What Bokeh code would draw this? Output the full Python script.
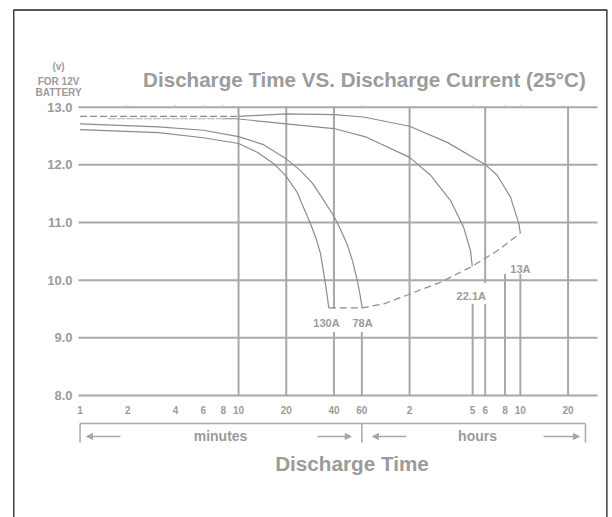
from bokeh.plotting import figure
from bokeh.models import Arrow, NormalHead
from bokeh.embed import file_html
from bokeh.resources import INLINE
from bokeh.core.properties import value

# ---------------- data (time in minutes, voltage in V) ----------------
t_130 = [1, 3.13, 6, 10, 13.12, 16.7, 20, 23.46, 25.8, 28.47, 31.06, 32.9, 35.04, 36.3, 37.1]
v_130 = [12.61, 12.56, 12.47, 12.37, 12.22, 12.02, 11.80, 11.52, 11.25, 10.98, 10.70, 10.46, 10.0, 9.72, 9.52]

t_78 = [1, 3.13, 6, 10, 14.38, 20.08, 24.61, 29.31, 32.91, 40.17, 44.0, 48.5, 52.4, 56.1, 58.4, 60.3]
v_78 = [12.71, 12.66, 12.60, 12.49, 12.35, 12.10, 11.90, 11.68, 11.47, 11.10, 10.88, 10.62, 10.33, 10.0, 9.75, 9.52]

t_22_dash = [1.5, 8]
v_22_dash = [12.80, 12.80]
t_22 = [8, 9.7, 20, 40, 64.2, 120, 162.7, 217.6, 262.8, 290.9, 298.2]
v_22 = [12.80, 12.80, 12.71, 12.63, 12.48, 12.13, 11.82, 11.38, 10.92, 10.51, 10.24]

t_13_dash = [1, 10]
v_13_dash = [12.84, 12.84]
t_13 = [10, 20, 40, 61.4, 120, 207.4, 361.6, 428.6, 520, 586.8, 600]
v_13 = [12.84, 12.885, 12.87, 12.83, 12.67, 12.39, 12.0, 11.82, 11.44, 10.98, 10.815]

t_end = [37.1, 60.3, 82.6, 120.5, 188, 298.2, 429, 600]
v_end = [9.52, 9.52, 9.59, 9.76, 9.965, 10.24, 10.51, 10.815]

curve_labels = ["130A", "78A", "22.1A", "13A"]
label_t = [35.9, 60.6, 294, 600]
label_v = [9.25, 9.25, 9.72, 10.20]

# vertical grid segments (minutes) with their top / bottom voltages
vline_t = [10, 20, 40, 40, 60, 120, 300, 360, 360, 480, 600, 1200]
vline_top = [13, 13, 13, 9.10, 9.10, 13, 9.59, 13, 9.59, 10.11, 10.11, 13]
vline_bot = [8, 8, 9.51, 8, 8, 8, 8, 9.95, 8, 8, 8, 8]

y_ticks = [8, 9, 10, 11, 12, 13]
y_tick_labels = ["8.0", "9.0", "10.0", "11.0", "12.0", "13.0"]
x_ticks = [1, 2, 4, 6, 8, 10, 20, 40, 60, 120, 300, 360, 480, 600, 1200]
x_tick_labels = ["1", "2", "4", "6", "8", "10", "20", "40", "60", "2", "5", "6", "8", "10", "20"]
top_ticks = [2, 4, 6, 8, 60, 300, 480, 600]

# axis domain of the chart grid
T_LO, T_HI = 0.978, 1840
V_LO, V_HI = 8, 13

# ---------------- layout (whole sheet drawn inside the plot frame) ----------------
X_VIEW = (0.3149, 2288)
Y_VIEW = (5.884, 14.8505)

TXT = "#9b9b9b"
GRID = "#a8a8a8"
CURVE = "#8c8c8c"
FONT = value("Liberation Sans")

p = figure(width=612, height=517, x_axis_type="log",
           x_range=X_VIEW, y_range=Y_VIEW,
           x_axis_location=None, y_axis_location=None,
           output_backend="svg", toolbar_location=None, min_border=0)
p.outline_line_color = None
p.grid.visible = False
p.background_fill_color = "white"
p.border_fill_color = "white"


def txt(x, y, t, size, align="center", **kw):
    p.text(x=x, y=y, text=t, text_align=align, text_baseline="middle",
           text_font=FONT, text_font_style="bold", text_font_size=value(size),
           text_color=TXT, **kw)


# grid
p.segment(x0=[T_LO] * len(y_ticks), y0=y_ticks, x1=[T_HI] * len(y_ticks), y1=y_ticks,
          line_color=GRID, line_width=2)
p.segment(x0=vline_t, y0=vline_bot, x1=vline_t, y1=vline_top,
          line_color=GRID, line_width=2)
p.segment(x0=top_ticks, y0=[V_HI] * len(top_ticks), x1=top_ticks,
          y1=[V_HI + 0.04] * len(top_ticks), line_color="#c8c8c8", line_width=1)

# tick labels
txt([T_LO] * len(y_ticks), y_ticks, y_tick_labels, "13px", align="right", x_offset=-6)
txt(x_ticks, [V_LO] * len(x_ticks), x_tick_labels, "10px", y_offset=15)

# curves
p.line(t_13_dash, v_13_dash, line_color=CURVE, line_width=1.2, line_dash="7 3")
p.line(t_22_dash, v_22_dash, line_color="#b0b0b0", line_width=1.2, line_dash="8 1")
for tx, vy in [(t_130, v_130), (t_78, v_78), (t_22, v_22), (t_13, v_13)]:
    p.line(tx, vy, line_color=CURVE, line_width=1.2, line_join="round")
p.line(t_end, v_end, line_color=CURVE, line_width=1.2, line_dash="7 4")

txt(label_t, label_v, curve_labels, "11px")

# title and side caption
txt([62.3], [13.489], ["Discharge Time VS. Discharge Current (25\u00b0C)"], "20.6px")
txt([0.7316] * 3, [13.706, 13.451, 13.25], ["(v)", "FOR 12V", "BATTERY"], "10px")

# bracket under the axis
BR_TOP, BR_BOT, BR_ARROW = 7.514, 7.185, 7.289
bracket_t = [1, 60, 1545]
p.line([bracket_t[0], bracket_t[-1]], [BR_TOP, BR_TOP], line_color=GRID, line_width=1.5)
p.segment(x0=bracket_t, y0=[BR_TOP] * 3, x1=bracket_t, y1=[BR_BOT] * 3,
          line_color=GRID, line_width=1.5)
arrow_pairs = [(1.80, 1.099), (31.5, 51.4), (114.7, 70.0), (840, 1415)]
for a0, a1 in arrow_pairs:
    p.add_layout(Arrow(end=NormalHead(size=6, fill_color=GRID, line_color=GRID),
                       x_start=a0, y_start=BR_ARROW, x_end=a1, y_end=BR_ARROW,
                       line_color=GRID, line_width=1.3))
txt([7.70, 322], [7.298, 7.298], ["minutes", "hours"], "14px")
txt([52.0], [6.82], ["Discharge Time"], "20.7px")

# outer frame of the sheet
p.line([0.3819, 0.3819, 2109, 2109], [5.5, 14.686, 14.686, 5.5],
       line_color="#222222", line_width=1.3)

open("out.html", "w").write(file_html(p, INLINE))
